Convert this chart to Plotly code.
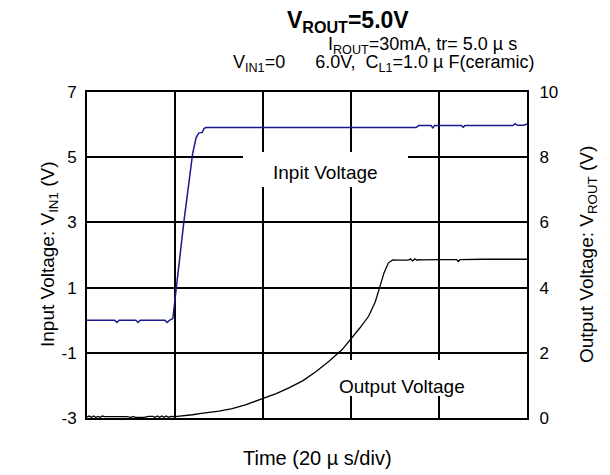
import plotly.graph_objects as go

# Time axis in microseconds (20 us/div, 5 divisions)
time_ticks = [0, 20, 40, 60, 80, 100]
vin_ticks = [-3, -1, 1, 3, 5, 7]
vin_labels = ["-3", "-1", "1", "3", "5", "7"]
vout_ticks = [0, 2, 4, 6, 8, 10]
vout_labels = ["0", "2", "4", "6", "8", "10"]

# Input voltage V_IN1 (left axis)
t_in = [0, 6.3, 6.8, 7.3, 11.1, 11.6, 12.1, 17.7, 18.2, 18.8, 19.5, 20.3, 22.0, 24.0, 24.8,
        25.4, 26.2, 26.6, 27.0, 35, 45, 55, 65, 74.8, 75.4, 78.2, 78.6, 79.0, 85.1, 85.5,
        85.9, 96.8, 97.3, 97.8, 99.3, 100]
v_in = [0.0, 0.0, -0.07, 0.0, 0.0, -0.07, 0.0, 0.0, -0.07, 0.0, 0.05, 1.0, 3.0, 5.1, 5.6,
        5.74, 5.76, 5.88, 5.91, 5.91, 5.91, 5.91, 5.91, 5.91, 5.97, 5.97, 5.9, 5.97, 5.97, 5.92,
        5.97, 5.97, 6.03, 5.98, 5.98, 6.02]

# Output voltage V_ROUT (right axis)
t_out = [0, 0.5, 1.0, 1.5, 2.0, 2.5, 3.0, 3.5, 4.0, 5, 6, 7, 9, 10, 10.5, 11, 12, 13, 14, 15,
         15.5, 16, 16.5, 17, 17.5, 18, 18.5, 19, 20, 22, 24, 26, 28, 30, 33, 36, 40, 43, 46,
         49, 52, 55, 58, 60, 62, 64, 65.5, 66.5, 67.5, 68.5, 69.5, 70.5, 72, 73, 73.5, 74,
         74.5, 75, 75.5, 76, 80, 84, 84.4, 84.8, 90, 95, 100]
v_out = [0.03, 0.06, 0.02, 0.06, 0.02, 0.05, 0.02, 0.06, 0.04, 0.04, 0.05, 0.05, 0.04,
         0.02, 0.05, 0.02, 0.02, 0.02, 0.05, 0.05, 0.02, 0.06, 0.02, 0.06, 0.02, 0.06, 0.02,
         0.05, 0.04, 0.06, 0.1, 0.14, 0.17, 0.21, 0.29, 0.4, 0.6, 0.75, 0.93, 1.14, 1.42,
         1.74, 2.1, 2.42, 2.76, 3.12, 3.56, 4.0, 4.45, 4.76, 4.85, 4.84, 4.83, 4.84, 4.88,
         4.82, 4.88, 4.84, 4.86, 4.85, 4.86, 4.86, 4.8, 4.86, 4.87, 4.87, 4.87]

W, H = 610, 475
L, R, T, B = 87, 83, 92, 57
pw, ph = W - L - R, H - T - B


def px(x, y):
    """pixel position (from top-left) -> paper coordinates"""
    return (x - L) / pw, (H - B - y) / ph


fig = go.Figure()
fig.add_trace(go.Scatter(x=t_in, y=v_in, mode="lines", line=dict(color="#1a1a8c", width=1.5),
                         yaxis="y", showlegend=False, hoverinfo="skip"))
fig.add_trace(go.Scatter(x=t_out, y=v_out, mode="lines", line=dict(color="#000000", width=1.3),
                         yaxis="y2", showlegend=False, hoverinfo="skip"))

font_family = "Liberation Sans, Arial, sans-serif"

fig.update_layout(
    width=W, height=H,
    margin=dict(l=L, r=R, t=T, b=B, autoexpand=False),
    paper_bgcolor="white", plot_bgcolor="white",
    font=dict(family=font_family, size=17, color="black"),
    xaxis=dict(range=[0, 100], tickvals=time_ticks, showticklabels=False, ticks="",
               showgrid=True, gridcolor="black", gridwidth=1.6, automargin=False,
               showline=True, linecolor="black", linewidth=2, mirror=True, zeroline=False),
    yaxis=dict(range=[-3, 7], tickvals=vin_ticks, ticktext=vin_labels,
               ticks="outside", ticklen=5, tickcolor="rgba(0,0,0,0)", automargin=False,
               showgrid=True, gridcolor="black", gridwidth=1.6,
               showline=True, linecolor="black", linewidth=2, mirror=True, zeroline=False,
               tickfont=dict(size=17)),
    yaxis2=dict(range=[0, 10], tickvals=vout_ticks, ticktext=vout_labels, overlaying="y",
                side="right", ticks="outside", ticklen=8, tickcolor="rgba(0,0,0,0)",
                automargin=False, showgrid=False, zeroline=False, showline=False,
                tickfont=dict(size=17)),
)

# white boxes covering the grid behind the trace labels
for cx, cy, w, h in [(325.5, 169.5, 165, 35), (403, 378, 116, 36)]:
    x0, y0 = px(cx - w / 2, cy + h / 2)
    x1, y1 = px(cx + w / 2, cy - h / 2)
    fig.add_shape(type="rect", xref="paper", yref="paper", x0=x0, y0=y0, x1=x1, y1=y1,
                  fillcolor="white", line=dict(width=0), layer="above")

anns = []


def add_text(text, x, y, size, xanchor="center", angle=0, **kw):
    ax, ay = px(x, y)
    anns.append(dict(text=text, x=ax, y=ay, xref="paper", yref="paper", showarrow=False,
                     xanchor=xanchor, yanchor="middle", textangle=angle,
                     font=dict(size=size), **kw))


# titles
add_text("<b>V<sub>ROUT</sub>=5.0V</b>", 348, 22, 23)
add_text("I<sub>ROUT</sub>=30mA, tr= 5.0 µ s", 519, 46, 18, xanchor="right")
add_text("V<sub>IN1</sub>=0      6.0V,  C<sub>L1</sub>=1.0 µ F(ceramic)", 536, 63, 18,
         xanchor="right")
# axis titles
add_text("Time (20 µ s/div)", 317, 458, 20)
add_text("Input Voltage: V<sub>IN1</sub> (V)", 49, 255, 19, angle=-90)
add_text("Output Voltage: V<sub>ROUT</sub> (V)", 588, 255, 19, angle=-90)
# trace labels
add_text("Inpit Voltage", 325.5, 172, 19)
add_text("Output Voltage", 402, 386, 19)

fig.update_layout(annotations=anns)

fig.write_html("out.html", config={"displayModeBar": False},
               post_script="document.body.style.margin='0';")
